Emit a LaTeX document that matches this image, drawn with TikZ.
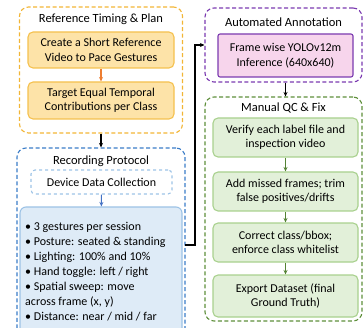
\documentclass[tikz,border=0pt]{standalone}
\usepackage{fontspec}
\setmainfont{Carlito}
\usepackage{tikz}
\usetikzlibrary{arrows.meta,positioning}

\definecolor{refedge}{HTML}{F2B535}
\definecolor{refline}{HTML}{F5C14E}
\definecolor{reffill}{HTML}{FDE3A8}
\definecolor{refarrow}{HTML}{ED7D31}
\definecolor{recedge}{HTML}{3B7DC8}
\definecolor{recline}{HTML}{9DC3E6}
\definecolor{recfill}{HTML}{DEEBF7}
\definecolor{recarrow}{HTML}{4472C4}
\definecolor{autoedge}{HTML}{7B3BB0}
\definecolor{autofill}{HTML}{F7D5EC}
\definecolor{qcedge}{HTML}{5E8F3A}
\definecolor{qcline}{HTML}{A9D18E}
\definecolor{qcfill}{HTML}{E2F0D9}
\definecolor{qcarrow}{HTML}{548235}

\begin{document}
\begin{tikzpicture}[x=1pt,y=-1pt]

% --- STYLES ---
\tikzset{
  grpbox/.style={rectangle, dashed, dash pattern=on 4pt off 2.5pt,
                 line width=1.1pt, rounded corners=9pt, inner sep=0pt},
  grptitle/.style={font=\fontsize{12.5}{15}\selectfont, inner sep=0pt},
  stepbox/.style={rectangle, rounded corners=5pt, line width=1.1pt,
                  align=center, font=\fontsize{12}{14.5}\selectfont,
                  minimum width=145pt, inner sep=0pt},
  flow/.style={line width=1.1pt, -{Stealth[length=4.5pt, width=4pt]}},
}

\useasboundingbox (0,0) rectangle (363,328);
\clip (0,0) rectangle (363,328);

% ================= REFERENCE TIMING & PLAN =================
\node[grpbox, draw=refedge, minimum width=163pt, minimum height=126pt] (refgrp) at (101,70) {};
\node[grptitle] (reftitle) at (101,19) {Reference Timing \& Plan};
\node[stepbox, draw=refline, fill=reffill, minimum width=146pt, minimum height=36pt] (ref1) at (101,50) {Create a Short Reference\\Video to Pace Gestures};
\node[stepbox, draw=refline, fill=reffill, minimum width=146pt, minimum height=37pt] (ref2) at (101,100.5) {Target Equal Temporal\\Contributions per Class};
\draw[flow, refarrow] (ref1) -- (ref2);

% ================= RECORDING PROTOCOL =================
\node[grpbox, draw=recedge, minimum width=168pt, minimum height=200pt] (recgrp) at (101,248) {};
\node[grptitle] (rectitle) at (101,161) {Recording Protocol};
\node[stepbox, dashed, draw=recline, rounded corners=4pt, minimum width=141pt, minimum height=24pt] (devbox) at (101.5,182) {Device Data Collection};
\node[stepbox, draw=recline, fill=recfill, rounded corners=6pt, minimum width=162pt, minimum height=133pt] (bulletbox) at (101,273.5) {};
\node[anchor=north west, align=left, inner sep=0pt,
      font=\fontsize{12}{15}\selectfont] (bulletlist) at (25,222)
  {• 3 gestures per session\\
   • Posture: seated \& standing\\
   • Lighting: 100\% and 10\%\\
   • Hand toggle: left / right\\
   • Spatial sweep: move\\
   across frame (x, y)\\
   • Distance: near / mid / far};
\draw[flow, recarrow] (devbox) -- (bulletbox);

% ================= AUTOMATED ANNOTATION =================
\node[grpbox, draw=autoedge, minimum width=157pt, minimum height=74pt] (autogrp) at (283.5,45) {};
\node[grptitle] (autotitle) at (283.5,22) {Automated Annotation};
\node[stepbox, draw=autoedge, fill=autofill, rounded corners=2pt, minimum width=135pt, minimum height=43pt] (autobox) at (285.5,55.5) {Frame wise YOLOv12m\\Inference (640x640)};

% ================= MANUAL QC & FIX =================
\node[grpbox, draw=qcedge, minimum width=157pt, minimum height=224pt] (qcgrp) at (283.5,209) {};
\node[grptitle] (qctitle) at (283.5,108) {Manual QC \& Fix};
\node[stepbox, draw=qcline, fill=qcfill, minimum height=39pt] (qc1) at (285.5,137.5) {Verify each label file and\\inspection video};
\node[stepbox, draw=qcline, fill=qcfill, minimum height=39pt] (qc2) at (285.5,191.5) {Add missed frames; trim\\false positives/drifts};
\node[stepbox, draw=qcline, fill=qcfill, minimum height=39pt] (qc3) at (285.5,242.5) {Correct class/bbox;\\enforce class whitelist};
\node[stepbox, draw=qcline, fill=qcfill, minimum height=42pt] (qc4) at (285.5,296) {Export Dataset (final\\Ground Truth)};
\draw[flow, qcarrow] (qc1) -- (qc2);
\draw[flow, qcarrow] (qc2) -- (qc3);
\draw[flow, qcarrow] (qc3) -- (qc4);

% ================= LINKS BETWEEN GROUPS =================
\draw[flow, black] (refgrp.south) -- (recgrp.north);
\draw[flow, black] (autogrp.south -| autobox) -- (qcgrp.north -| autobox);
\coordinate (tapout) at (185,245);
\draw[flow, black] (tapout) -- ++(10,0) |- (autogrp.west);

\end{tikzpicture}
\end{document}
